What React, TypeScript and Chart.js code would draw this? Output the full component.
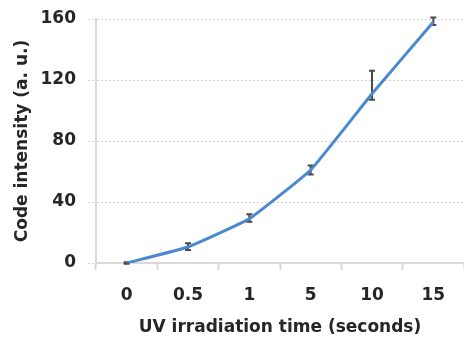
import React, { useEffect, useRef } from "react";
import { Chart, registerables } from "chart.js";

Chart.register(...registerables);

const categories = ["0", "0.5", "1", "5", "10", "15"];
const intensity = [0, 10.5, 29, 61, 111, 158];
const errLow = [-0.5, 8.5, 27, 58, 107, 156];
const errHigh = [0.5, 13, 32, 64, 126, 161];
const yTicks = [0, 40, 80, 120, 160];

const FONT = "'DejaVu Sans', sans-serif";
const TEXT = "#262626";

const errorBars = {
  id: "errorBars",
  beforeDatasetsDraw(chart: any) {
    const { ctx, scales } = chart;
    const xs = scales.x;
    const ys = scales.y;
    ctx.save();
    ctx.strokeStyle = "#4a4a4a";
    ctx.lineWidth = 2;
    categories.forEach((_, i) => {
      const x = xs.getPixelForValue(i);
      const y1 = ys.getPixelForValue(errLow[i]);
      const y2 = ys.getPixelForValue(errHigh[i]);
      ctx.beginPath();
      ctx.moveTo(x, y1);
      ctx.lineTo(x, y2);
      ctx.moveTo(x - 3, y1);
      ctx.lineTo(x + 3, y1);
      ctx.moveTo(x - 3, y2);
      ctx.lineTo(x + 3, y2);
      ctx.stroke();
    });
    ctx.restore();
  },
};

export default function App() {
  const ref = useRef<HTMLCanvasElement>(null);
  useEffect(() => {
    document.body.style.margin = "0";
    const chart = new Chart(ref.current!, {
      type: "line",
      data: {
        labels: categories,
        datasets: [
          {
            data: intensity,
            borderColor: "#4a89cf",
            borderWidth: 3,
            pointRadius: 0,
            tension: 0.1,
            fill: false,
          },
        ],
      },
      options: {
        animation: false,
        responsive: true,
        maintainAspectRatio: false,
        layout: { padding: { top: 19, right: 0, left: 0, bottom: 0 } },
        plugins: { legend: { display: false }, tooltip: { enabled: false } },
        scales: {
          x: {
            offset: true,
            grid: {
              offset: true,
              drawOnChartArea: false,
              drawTicks: true,
              tickLength: 7,
              tickColor: "#d9d9d9",
              tickWidth: 2,
            },
            border: { color: "#d9d9d9", width: 2 },
            ticks: {
              color: TEXT,
              font: { family: FONT, size: 17, weight: "bold" },
              padding: 15,
              maxRotation: 0,
            },
            title: {
              display: true,
              text: "UV irradiation time (seconds)",
              color: TEXT,
              font: { family: FONT, size: 17, weight: "bold" },
              padding: { top: 0, bottom: 5 },
            },
            afterFit(scale: any) {
              scale.height = 80;
              scale.paddingLeft = 0;
              scale.paddingRight = 0;
            },
          },
          y: {
            min: 0,
            max: 160,
            afterBuildTicks(scale: any) {
              scale.ticks = yTicks.map((v) => ({ value: v }));
            },
            grid: {
              color: "#d4d4d4",
              lineWidth: 1,
              tickLength: 8,
              tickColor: "#d4d4d4",
              tickBorderDash: [2, 2],
            },
            border: { color: "#d9d9d9", width: 2, dash: [2, 2] },
            ticks: {
              color: TEXT,
              font: { family: FONT, size: 17, weight: "bold" },
              padding: 12,
            },
            title: {
              display: true,
              text: "Code intensity (a. u.)",
              color: TEXT,
              font: { family: FONT, size: 17, weight: "bold" },
              padding: { top: 12, bottom: 0 },
            },
            afterFit(scale: any) {
              scale.width = 96;
              scale.paddingTop = 0;
              scale.paddingBottom = 0;
            },
          },
        },
      },
      plugins: [errorBars],
    });
    return () => chart.destroy();
  }, []);
  return (
    <div style={{ position: "absolute", left: 0, top: 0, width: 464, height: 343 }}>
      <canvas ref={ref} />
    </div>
  );
}
